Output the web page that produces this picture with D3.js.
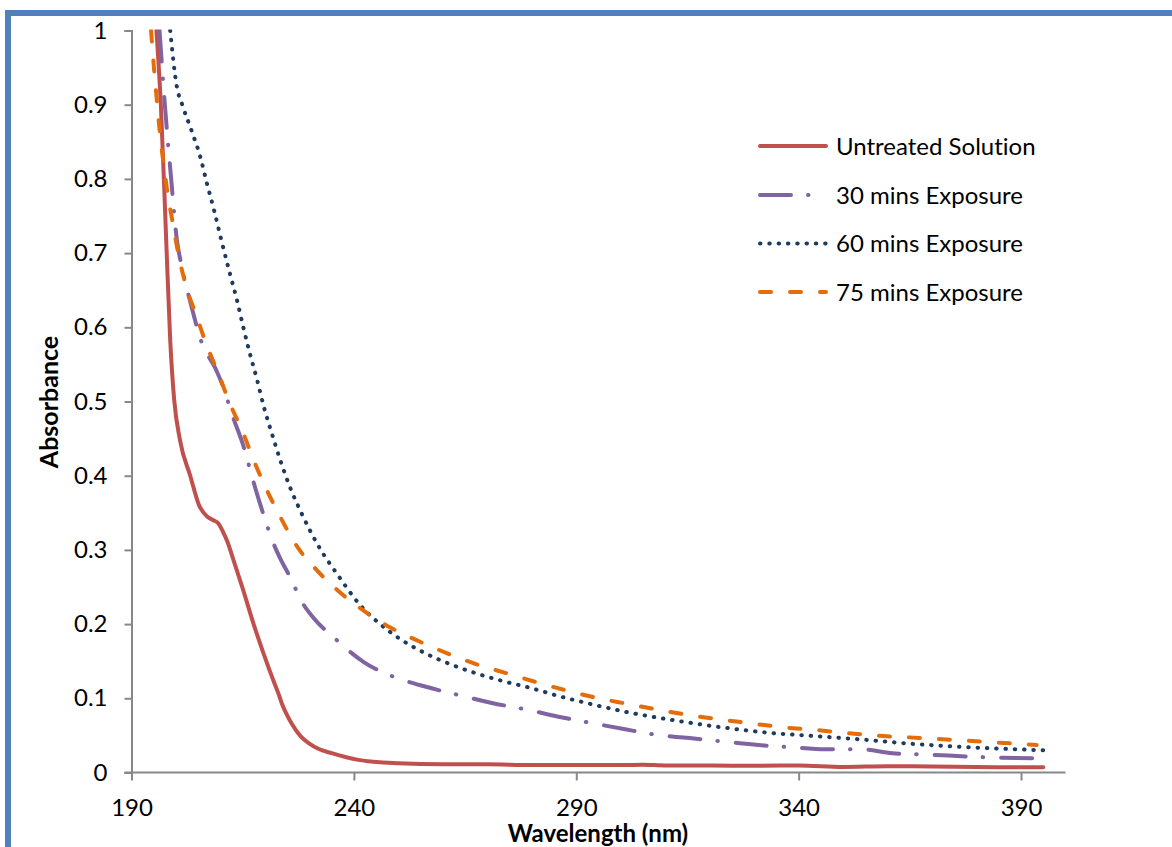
<!DOCTYPE html>
<html>
<head>
<meta charset="utf-8">
<script src="https://cdn.jsdelivr.net/npm/d3@7"></script>
<style>
  html, body { margin: 0; padding: 0; background: #fff; }
  svg { display: block; }
  text { font-family: Lato, "Open Sans", sans-serif; fill: #000; font-variant-ligatures: none; font-feature-settings: "liga" 0; }
</style>
</head>
<body>
<svg id="chart" width="1172" height="847"></svg>
<script>
// ---------- data ----------
const xTicks = [190, 240, 290, 340, 390];
const yTicks = [0, 0.1, 0.2, 0.3, 0.4, 0.5, 0.6, 0.7, 0.8, 0.9, 1];
const seriesNames = ["Untreated Solution", "30 mins Exposure", "60 mins Exposure", "75 mins Exposure"];

const untreatedWl = [195.6, 196.6, 197.8, 198.7, 199.6, 200.9, 203.2, 205.2, 207.0, 208.4, 209.5, 210.6, 211.5, 212.9, 215.1, 217.4, 219.6, 221.9, 223.0, 224.0, 225.0, 226.0, 228.0, 230.0, 232.0, 235.0, 241.0, 250.0, 260, 270, 280, 290, 300, 305, 310, 320, 330, 340, 350, 360, 370, 380, 390, 395];
const untreatedAbs = [1.0, 0.9, 0.718, 0.583, 0.502, 0.448, 0.400, 0.360, 0.345, 0.340, 0.336, 0.324, 0.312, 0.287, 0.246, 0.201, 0.162, 0.124, 0.107, 0.090, 0.077, 0.066, 0.049, 0.039, 0.032, 0.026, 0.017, 0.0125, 0.011, 0.011, 0.010, 0.010, 0.010, 0.0105, 0.0095, 0.0095, 0.009, 0.0095, 0.0075, 0.0085, 0.008, 0.0075, 0.007, 0.007];

const min30Wl = [196.3, 197.5, 198.9, 200.2, 201.3, 203.4, 205.8, 208.8, 210.6, 212.5, 215.4, 217.2, 219.6, 221.9, 223.4, 225.6, 228.5, 230.9, 236.1, 242.3, 248.9, 256.4, 263.5, 271.0, 278.5, 286.0, 293.8, 301.0, 308.4, 316.0, 323.4, 330.9, 338.4, 346.1, 353.8, 361.1, 365.8, 385.2, 395];
const min30Abs = [1.0, 0.9, 0.801, 0.718, 0.682, 0.630, 0.579, 0.5455, 0.520, 0.4845, 0.4356, 0.3965, 0.349, 0.309, 0.289, 0.264, 0.228, 0.2086, 0.1786, 0.1485, 0.1291, 0.1152, 0.1044, 0.0937, 0.0852, 0.0752, 0.0663, 0.0582, 0.0505, 0.0461, 0.0415, 0.0371, 0.034, 0.0313, 0.0315, 0.0259, 0.0249, 0.020, 0.019];

const min60Wl = [198.7, 200.2, 201.4, 203.5, 205.5, 207.0, 208.6, 210.1, 212.1, 213.7, 215.1, 216.6, 218.3, 219.8, 221.6, 223.5, 225.6, 228.1, 231.9, 236.5, 241.4, 245.9, 251.0, 256.4, 262.1, 268.0, 274.0, 280.0, 286.0, 292.0, 302.1, 312.6, 322.7, 333.2, 343.3, 353.8, 363.9, 395];
const min60Abs = [1.0, 0.924, 0.900, 0.865, 0.829, 0.793, 0.757, 0.720, 0.673, 0.637, 0.601, 0.565, 0.528, 0.492, 0.456, 0.420, 0.385, 0.351, 0.3066, 0.2652, 0.2257, 0.200, 0.1776, 0.1597, 0.145, 0.1327, 0.1224, 0.1135, 0.1031, 0.0941, 0.0806, 0.0698, 0.0609, 0.0536, 0.0492, 0.0447, 0.0394, 0.030];

const min75Wl = [194.4, 195.1, 195.7, 196.4, 197.2, 198.1, 199.3, 200.5, 202.3, 204.5, 206.9, 209.5, 212.1, 215.0, 217.6, 220.4, 223.4, 227.3, 231.6, 236.7, 242.5, 248.1, 254.5, 261.0, 267.6, 274.4, 281.1, 288.0, 295.0, 301.7, 308.8, 315.6, 322.7, 329.8, 336.5, 343.7, 350.8, 357.5, 364.6, 393.5];
const min75Abs = [1.0, 0.946, 0.906, 0.861, 0.821, 0.781, 0.740, 0.700, 0.655, 0.617, 0.576, 0.538, 0.4976, 0.459, 0.419, 0.381, 0.345, 0.304, 0.273, 0.2437, 0.2167, 0.1957, 0.1772, 0.1606, 0.1458, 0.1337, 0.1216, 0.1102, 0.1000, 0.0923, 0.0842, 0.0771, 0.0712, 0.0658, 0.0609, 0.0573, 0.0532, 0.0496, 0.0474, 0.037];

// ---------- drawing ----------
const svg = d3.select("#chart");
const W = 1172, H = 847;

// outer border (blue frame)
svg.append("rect")
  .attr("x", 8).attr("y", 13)
  .attr("width", W + 20).attr("height", H + 20)
  .attr("fill", "none")
  .attr("stroke", "#4F81BD")
  .attr("stroke-width", 6);

const x = d3.scaleLinear().domain([190, 400]).range([131.5, 1065.5]);
const y = d3.scaleLinear().domain([0, 1]).range([772.5, 30.5]);

const axisColor = "#888888";

// clip to plot area
svg.append("defs").append("clipPath").attr("id", "plotclip")
  .append("rect")
  .attr("x", x(190)).attr("y", y(1) - 1)
  .attr("width", x(400) - x(190)).attr("height", y(0) - y(1) + 1);

// Y axis
const yAxis = d3.axisLeft(y).tickValues(yTicks).tickSize(7).tickPadding(17)
  .tickFormat(d => d3.format("~g")(d));
const gy = svg.append("g").attr("transform", `translate(${x(190)},0)`).call(yAxis);
gy.select(".domain").attr("stroke", axisColor).attr("stroke-width", 2);
gy.selectAll(".tick line").attr("stroke", axisColor).attr("stroke-width", 2);
gy.selectAll(".tick text").attr("font-size", 24).attr("font-family", "Lato, sans-serif").attr("fill", "#000");

// X axis
const xAxis = d3.axisBottom(x).tickValues(xTicks).tickSize(8).tickPadding(18)
  .tickFormat(d3.format("d"));
const gx = svg.append("g").attr("transform", `translate(0,${y(0)})`).call(xAxis);
gx.select(".domain").attr("stroke", axisColor).attr("stroke-width", 2)
  .attr("d", `M${x(190) - 7},0H${x(400)}`);
gx.selectAll(".tick line").attr("stroke", axisColor).attr("stroke-width", 2);
gx.selectAll(".tick text").attr("font-size", 24).attr("font-family", "Lato, sans-serif").attr("fill", "#000");

// Axis titles
svg.append("text")
  .attr("transform", `translate(58,402) rotate(-90)`)
  .attr("text-anchor", "middle")
  .attr("font-size", 25).attr("font-weight", "bold")
  .text("Absorbance");
svg.append("text")
  .attr("x", 598).attr("y", 842)
  .attr("text-anchor", "middle")
  .attr("font-size", 24).attr("font-weight", "bold")
  .text("Wavelength (nm)");

// Series
const styles = [
  { color: "#C0504D", dash: null },
  { color: "#8064A2", dash: "31 17 0.5 18" },
  { color: "#1F3B5E", dash: "0.5 8.8" },
  { color: "#E46C0A", dash: "11 19" }
];
const seriesData = [
  d3.zip(untreatedWl, untreatedAbs),
  d3.zip(min30Wl, min30Abs),
  d3.zip(min60Wl, min60Abs),
  d3.zip(min75Wl, min75Abs)
];

const line = d3.line()
  .x(d => x(d[0])).y(d => y(d[1]))
  .curve(d3.curveMonotoneX);

const plot = svg.append("g").attr("clip-path", "url(#plotclip)");
[0, 1, 2, 3].forEach(i => {
  plot.append("path")
    .datum(seriesData[i])
    .attr("d", line)
    .attr("fill", "none")
    .attr("stroke", styles[i].color)
    .attr("stroke-width", 4)
    .attr("stroke-linecap", "round")
    .attr("stroke-linejoin", "round")
    .attr("stroke-dasharray", styles[i].dash);
});

// Legend
const legendY = [146, 195, 243.5, 292];
const lg = svg.append("g");
seriesNames.forEach((name, i) => {
  lg.append("line")
    .attr("x1", 760).attr("x2", 826)
    .attr("y1", legendY[i]).attr("y2", legendY[i])
    .attr("stroke", styles[i].color)
    .attr("stroke-width", 4)
    .attr("stroke-linecap", "round")
    .attr("stroke-dasharray", styles[i].dash);
  lg.append("text")
    .attr("x", 836).attr("y", legendY[i])
    .attr("dy", "0.36em")
    .attr("font-size", 24)
    .text(name);
});
</script>
</body>
</html>
